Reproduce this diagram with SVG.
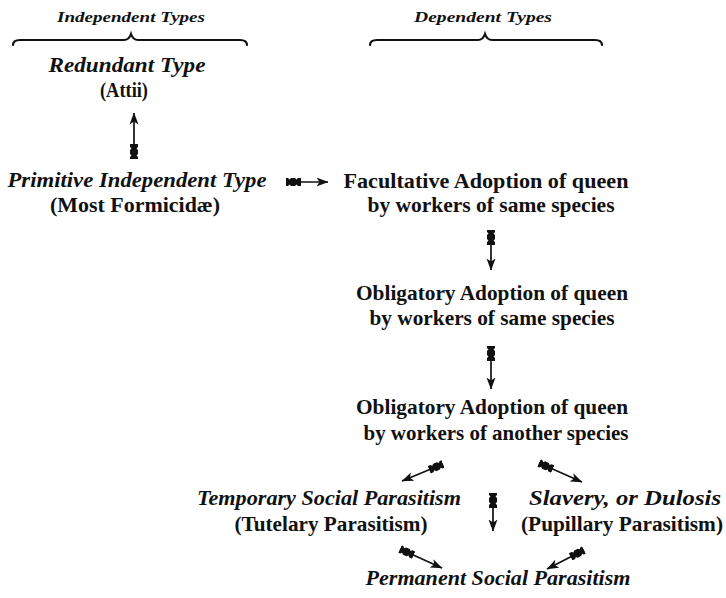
<svg xmlns="http://www.w3.org/2000/svg" width="726" height="598" viewBox="0 0 726 598">
<style>
.up{font-family:"Liberation Serif","Times New Roman",serif;font-size:21px;font-weight:bold;fill:#111;}
.it{font-family:"Liberation Serif","Times New Roman",serif;font-size:21px;font-weight:bold;font-style:italic;fill:#111;}
.hd{font-family:"Liberation Serif","Times New Roman",serif;font-size:14px;font-weight:bold;font-style:italic;fill:#111;}
.brace{fill:none;stroke:#111;stroke-width:2.2;stroke-linecap:round;}
.shaft{fill:none;stroke:#111;stroke-width:1.7;marker-start:url(#fletch);marker-end:url(#head);}
</style>
<defs>
<marker id="head" viewBox="0 0 12 10" refX="11.5" refY="5" markerWidth="12" markerHeight="10" markerUnits="userSpaceOnUse" orient="auto">
<path d="M0,0.5 L12,5 L0,9.5 L3,5 z" fill="#111"/>
</marker>
<marker id="fletch" viewBox="0 0 15 9" refX="0" refY="4.5" markerWidth="15" markerHeight="9" markerUnits="userSpaceOnUse" orient="auto">
<path d="M0,0.5 L2,0.5 L3.5,2 L5,0.5 L9,0.5 L10.5,2 L12,0.5 L15,0.5 L15,8.5 L12,8.5 L10.5,7 L9,8.5 L5,8.5 L3.5,7 L2,8.5 L0,8.5 z" fill="#111"/>
</marker>
</defs>

<g id="header-independent">
<text class="hd" x="131" y="22" text-anchor="middle" textLength="148" lengthAdjust="spacingAndGlyphs">Independent Types</text>
<path class="brace" d="M13,45 Q13,40 20,40 L124,40 Q129,40 131,34 Q133,40 138,40 L240,40 Q247,40 247,45"/>
</g>
<g id="header-dependent">
<text class="hd" x="483" y="22" text-anchor="middle" textLength="138" lengthAdjust="spacingAndGlyphs">Dependent Types</text>
<path class="brace" d="M370,45 Q370,40 377,40 L478,40 Q483,40 485,34 Q487,40 492,40 L595,40 Q602,40 602,45"/>
</g>

<g id="redundant">
<text class="it" x="127" y="72" text-anchor="middle" textLength="157" lengthAdjust="spacingAndGlyphs">Redundant Type</text>
<text class="up" x="124" y="97" text-anchor="middle" textLength="48" lengthAdjust="spacingAndGlyphs">(Attii)</text>
</g>

<g id="primitive">
<text class="it" x="137" y="187" text-anchor="middle" textLength="259" lengthAdjust="spacingAndGlyphs">Primitive Independent Type</text>
<text class="up" x="135" y="212" text-anchor="middle" textLength="170" lengthAdjust="spacingAndGlyphs">(Most Formicidæ)</text>
</g>

<g id="facultative">
<text class="up" x="486" y="188" text-anchor="middle" textLength="285" lengthAdjust="spacingAndGlyphs">Facultative Adoption of queen</text>
<text class="up" x="491" y="212" text-anchor="middle" textLength="247" lengthAdjust="spacingAndGlyphs">by workers of same species</text>
</g>

<g id="obligatory-same">
<text class="up" x="492" y="300" text-anchor="middle" textLength="272" lengthAdjust="spacingAndGlyphs">Obligatory Adoption of queen</text>
<text class="up" x="492" y="325" text-anchor="middle" textLength="245" lengthAdjust="spacingAndGlyphs">by workers of same species</text>
</g>

<g id="obligatory-another">
<text class="up" x="492" y="414" text-anchor="middle" textLength="272" lengthAdjust="spacingAndGlyphs">Obligatory Adoption of queen</text>
<text class="up" x="496" y="440" text-anchor="middle" textLength="265" lengthAdjust="spacingAndGlyphs">by workers of another species</text>
</g>

<g id="temporary">
<text class="it" x="329" y="505" text-anchor="middle" textLength="264" lengthAdjust="spacingAndGlyphs">Temporary Social Parasitism</text>
<text class="up" x="331" y="531" text-anchor="middle" textLength="193" lengthAdjust="spacingAndGlyphs">(Tutelary Parasitism)</text>
</g>

<g id="slavery">
<text class="it" x="625" y="505" text-anchor="middle" textLength="192" lengthAdjust="spacingAndGlyphs">Slavery, or Dulosis</text>
<text class="up" x="622" y="531" text-anchor="middle" textLength="202" lengthAdjust="spacingAndGlyphs">(Pupillary Parasitism)</text>
</g>

<g id="permanent">
<text class="it" x="498" y="585" text-anchor="middle" textLength="265" lengthAdjust="spacingAndGlyphs">Permanent Social Parasitism</text>
</g>

<g id="connectors">
<line class="shaft" x1="134" y1="159" x2="134" y2="113"/>
<line class="shaft" x1="286" y1="182" x2="328" y2="182"/>
<line class="shaft" x1="491" y1="230" x2="491" y2="270"/>
<line class="shaft" x1="491" y1="346" x2="491" y2="389"/>
<line class="shaft" x1="443" y1="464" x2="402" y2="481"/>
<line class="shaft" x1="539" y1="463" x2="582" y2="482"/>
<line class="shaft" x1="493" y1="493" x2="493" y2="531"/>
<line class="shaft" x1="400" y1="549" x2="442" y2="568"/>
<line class="shaft" x1="584" y1="550" x2="547" y2="569"/>
</g>
</svg>
